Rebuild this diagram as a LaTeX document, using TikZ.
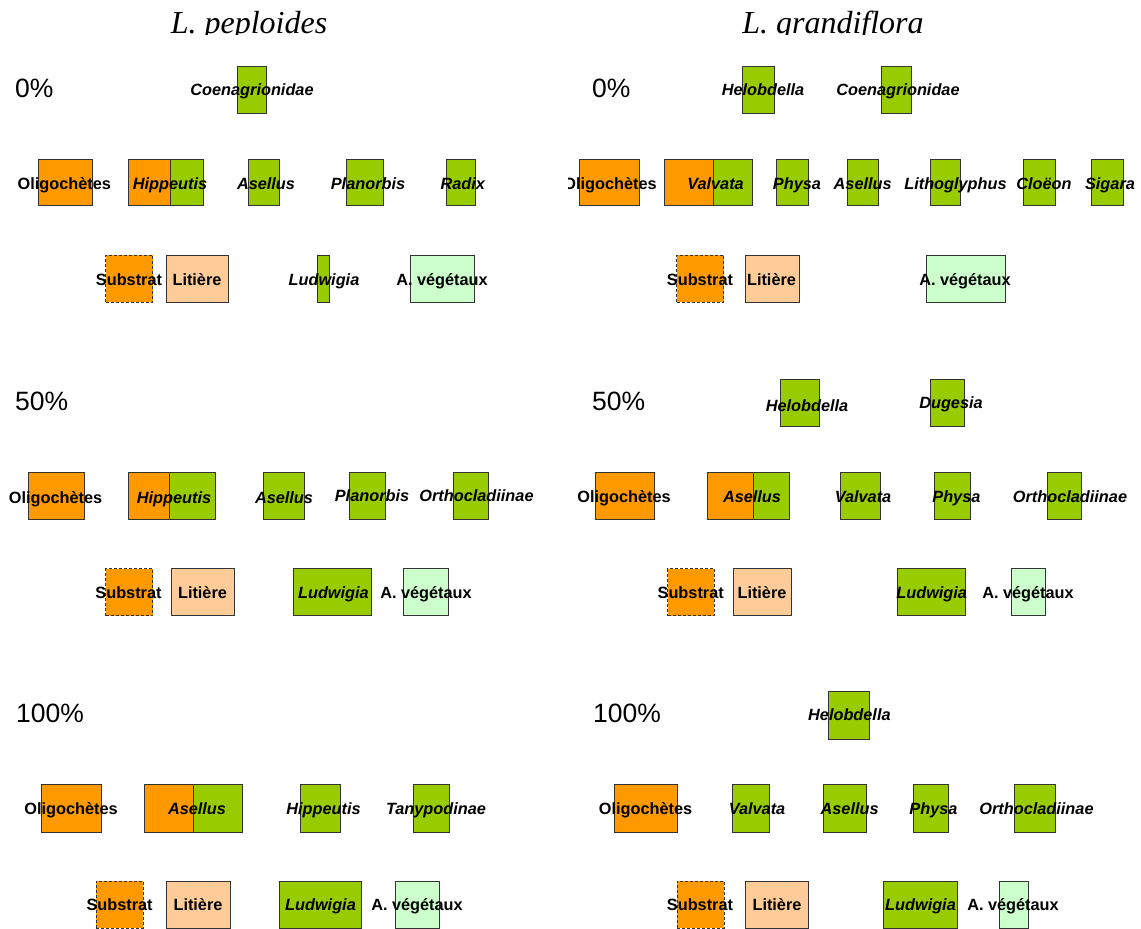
\documentclass[tikz,border=0pt]{standalone}
\usepackage{fontspec}
\setmainfont{Liberation Sans}
\newfontfamily\titfont{Liberation Serif}
\definecolor{orng}{HTML}{FF9900}
\definecolor{grn}{HTML}{99CC00}
\definecolor{lorng}{HTML}{FFCC99}
\definecolor{lgrn}{HTML}{CCFFCC}
\definecolor{edge}{HTML}{333333}
\tikzset{
  boxbase/.style={rectangle, draw=edge, line width=0.9pt, inner sep=0pt, outer sep=0pt},
  ob/.style={boxbase, fill=orng},
  gb/.style={boxbase, fill=grn},
  lob/.style={boxbase, fill=lorng},
  lgb/.style={boxbase, fill=lgrn},
  sb/.style={boxbase, fill=orng, dashed, dash pattern=on 3pt off 2pt},
  lab/.style={inner sep=0pt, font=\fontsize{16.3}{18}\selectfont\bfseries, text=black},
  pct/.style={inner sep=0pt, font=\fontsize{26.5}{30}\selectfont},
  tit/.style={inner sep=0pt, font=\titfont\fontsize{32}{36}\selectfont\itshape}
}
% #1 name, #2 style, #3 x1, #4 x2, #5 y1, #6 y2
\newcommand\bx[6]{\node[#2, minimum width={(#4-#3)*1pt}, minimum height={(#6-#5)*1pt}] (#1) at ({(#3+#4)/2},{(#5+#6)/2}) {};}
% #1 name, #2 x centre, #3 visual y centre, #4 text
\newcommand\lb[4]{\node[lab, anchor=base] (#1) at ({#2},{#3+6}) {#4};}
\begin{document}
\begin{tikzpicture}[x=1pt,y=-1pt]
\useasboundingbox (0,0) rectangle (1141,929);
% titles
\begin{scope}
\clip (0,0) rectangle (1141,34);
\node[tit, anchor=base] (t1) at (249,33) {L. peploides};
\node[tit, anchor=base] (t2) at (833,33) {L. grandiflora};
\end{scope}

% ===== Panel A: L. peploides 0% =====
\node[pct, anchor=base west] (a-pct) at (15,97) {0\%};
\bx{a-coen}{gb}{237}{266}{66}{113}
\lb{a-coen-t}{252}{89}{\textit{Coenagrionidae}}
\bx{a-olig}{ob}{38}{92}{159}{205}
\lb{a-olig-t}{64.3}{183}{Oligochètes}
\bx{a-hip1}{ob}{128}{170}{159}{205}
\bx{a-hip2}{gb}{170}{203}{159}{205}
\lb{a-hip-t}{170}{183}{\textit{Hippeutis}}
\bx{a-ase}{gb}{248}{279.5}{159}{205}
\lb{a-ase-t}{266}{183}{\textit{Asellus}}
\bx{a-pla}{gb}{346}{383}{159}{205}
\lb{a-pla-t}{368}{183}{\textit{Planorbis}}
\bx{a-rad}{gb}{446.5}{475}{159}{205}
\lb{a-rad-t}{463}{183}{\textit{Radix}}
\bx{a-sub}{sb}{105.6}{152.7}{255}{302}
\lb{a-sub-t}{129}{279}{Substrat}
\bx{a-lit}{lob}{166.6}{228}{255}{302}
\lb{a-lit-t}{197}{279}{Litière}
\bx{a-lud}{gb}{317}{329}{255}{302}
\lb{a-lud-t}{324}{279}{\textit{Ludwigia}}
\bx{a-veg}{lgb}{410.7}{474.6}{255}{302}
\lb{a-veg-t}{442}{279}{A. végétaux}

% ===== Panel C: L. peploides 50% =====
\node[pct, anchor=base west] (c-pct) at (15,410) {50\%};
\bx{c-olig}{ob}{28}{84}{472}{519}
\lb{c-olig-t}{55.5}{497}{Oligochètes}
\bx{c-hip1}{ob}{128}{169}{472}{519}
\bx{c-hip2}{gb}{169}{215}{472}{519}
\lb{c-hip-t}{174}{497.5}{\textit{Hippeutis}}
\bx{c-ase}{gb}{263}{304}{472}{519}
\lb{c-ase-t}{284}{497.5}{\textit{Asellus}}
\bx{c-pla}{gb}{349.6}{385.8}{472}{519}
\lb{c-pla-t}{372}{495}{\textit{Planorbis}}
\bx{c-ort}{gb}{453.8}{488}{472}{519}
\lb{c-ort-t}{476.5}{495}{\textit{Orthocladiinae}}
\bx{c-sub}{sb}{105.6}{152.7}{568.7}{615.7}
\lb{c-sub-t}{128.5}{592}{Substrat}
\bx{c-lit}{lob}{171.7}{234}{568.7}{615.7}
\lb{c-lit-t}{202.5}{592}{Litière}
\bx{c-lud}{gb}{293.7}{371}{568.7}{615.7}
\lb{c-lud-t}{333.4}{592}{\textit{Ludwigia}}
\bx{c-veg}{lgb}{403}{448.7}{568.7}{615.7}
\lb{c-veg-t}{426}{592}{A. végétaux}

% ===== Panel E: L. peploides 100% =====
\node[pct, anchor=base west] (e-pct) at (16,722) {100\%};
\bx{e-olig}{ob}{41}{101}{784}{832}
\lb{e-olig-t}{71}{808}{Oligochètes}
\bx{e-ase1}{ob}{144}{193.6}{784}{832}
\bx{e-ase2}{gb}{193.6}{242}{784}{832}
\lb{e-ase-t}{197}{808}{\textit{Asellus}}
\bx{e-hip}{gb}{300}{340.5}{784}{832}
\lb{e-hip-t}{323.5}{808}{\textit{Hippeutis}}
\bx{e-tan}{gb}{413}{449.4}{784}{832}
\lb{e-tan-t}{436}{808}{\textit{Tanypodinae}}
\bx{e-sub}{sb}{96}{143}{881}{928}
\lb{e-sub-t}{119.6}{904}{Substrat}
\bx{e-lit}{lob}{166.6}{230}{881}{928}
\lb{e-lit-t}{198}{904}{Litière}
\bx{e-lud}{gb}{279.5}{361}{881}{928}
\lb{e-lud-t}{320.5}{904}{\textit{Ludwigia}}
\bx{e-veg}{lgb}{395.7}{439.5}{881}{928}
\lb{e-veg-t}{417}{904}{A. végétaux}

\begin{scope}
\clip (568,0) rectangle (1141,929);
% ===== Panel B: L. grandiflora 0% =====
\node[pct, anchor=base west] (b-pct) at (592,97) {0\%};
\bx{b-hel}{gb}{742.5}{774}{66}{113}
\lb{b-hel-t}{763}{89}{\textit{Helobdella}}
\bx{b-coen}{gb}{881}{911.6}{66}{113}
\lb{b-coen-t}{898}{89}{\textit{Coenagrionidae}}
\bx{b-olig}{ob}{579}{639.4}{159}{205}
\lb{b-olig-t}{610}{183}{Oligochètes}
\bx{b-val1}{ob}{664}{713.6}{159}{205}
\bx{b-val2}{gb}{713.6}{752}{159}{205}
\lb{b-val-t}{715.5}{183}{\textit{Valvata}}
\bx{b-phy}{gb}{776.8}{808.6}{159}{205}
\lb{b-phy-t}{797}{183}{\textit{Physa}}
\bx{b-ase}{gb}{847.7}{878.7}{159}{205}
\lb{b-ase-t}{862.7}{183}{\textit{Asellus}}
\bx{b-lit}{gb}{930}{960}{159}{205}
\lb{b-lit-t}{955.5}{183}{\textit{Lithoglyphus}}
\bx{b-clo}{gb}{1023.8}{1055}{159}{205}
\lb{b-clo-t}{1044}{183}{\textit{Cloëon}}
\bx{b-sig}{gb}{1091}{1123}{159}{205}
\lb{b-sig-t}{1110}{183}{\textit{Sigara}}
\bx{b-sub}{sb}{676.7}{723.8}{255}{302}
\lb{b-sub-t}{700}{279}{Substrat}
\bx{b-litr}{lob}{745}{799}{255}{302}
\lb{b-litr-t}{771.5}{279}{Litière}
\bx{b-veg}{lgb}{926}{1005}{255}{302}
\lb{b-veg-t}{965}{279}{A. végétaux}

% ===== Panel D: L. grandiflora 50% =====
\node[pct, anchor=base west] (d-pct) at (592,410) {50\%};
\bx{d-hel}{gb}{780.8}{819.5}{379}{426}
\lb{d-hel-t}{807}{405.7}{\textit{Helobdella}}
\bx{d-dug}{gb}{930}{964}{379}{426}
\lb{d-dug-t}{951}{402}{\textit{Dugesia}}
\bx{d-olig}{ob}{595}{654}{472}{519}
\lb{d-olig-t}{624}{496}{Oligochètes}
\bx{d-ase1}{ob}{707.7}{753.4}{472}{519}
\bx{d-ase2}{gb}{753.4}{789.6}{472}{519}
\lb{d-ase-t}{752}{496}{\textit{Asellus}}
\bx{d-val}{gb}{840}{880}{472}{519}
\lb{d-val-t}{863}{496}{\textit{Valvata}}
\bx{d-phy}{gb}{934.6}{970.8}{472}{519}
\lb{d-phy-t}{956.4}{496}{\textit{Physa}}
\bx{d-ort}{gb}{1047}{1081.5}{472}{519}
\lb{d-ort-t}{1070}{496}{\textit{Orthocladiinae}}
\bx{d-sub}{sb}{667.5}{714}{568.7}{615.7}
\lb{d-sub-t}{690.7}{592}{Substrat}
\bx{d-lit}{lob}{733}{791.4}{568.7}{615.7}
\lb{d-lit-t}{762}{592}{Litière}
\bx{d-lud}{gb}{897}{965}{568.7}{615.7}
\lb{d-lud-t}{931.7}{592}{\textit{Ludwigia}}
\bx{d-veg}{lgb}{1011}{1045.7}{568.7}{615.7}
\lb{d-veg-t}{1028}{592}{A. végétaux}

% ===== Panel F: L. grandiflora 100% =====
\node[pct, anchor=base west] (f-pct) at (593,722) {100\%};
\bx{f-hel}{gb}{828.7}{869}{691}{739}
\lb{f-hel-t}{849.4}{714}{\textit{Helobdella}}
\bx{f-olig}{ob}{614.6}{677}{784}{832}
\lb{f-olig-t}{645.5}{808}{Oligochètes}
\bx{f-val}{gb}{732}{769.5}{784}{832}
\lb{f-val-t}{757}{808}{\textit{Valvata}}
\bx{f-ase}{gb}{823.6}{866.7}{784}{832}
\lb{f-ase-t}{849.6}{808}{\textit{Asellus}}
\bx{f-phy}{gb}{913.4}{948}{784}{832}
\lb{f-phy-t}{933.5}{808}{\textit{Physa}}
\bx{f-ort}{gb}{1014}{1055.6}{784}{832}
\lb{f-ort-t}{1036.5}{808}{\textit{Orthocladiinae}}
\bx{f-sub}{sb}{677}{724}{881}{928}
\lb{f-sub-t}{700}{904}{Substrat}
\bx{f-lit}{lob}{745}{808.6}{881}{928}
\lb{f-lit-t}{777}{904}{Litière}
\bx{f-lud}{gb}{883.5}{957.3}{881}{928}
\lb{f-lud-t}{920.5}{904}{\textit{Ludwigia}}
\bx{f-veg}{lgb}{999}{1028}{881}{928}
\lb{f-veg-t}{1013}{904}{A. végétaux}
\end{scope}
\end{tikzpicture}
\end{document}
